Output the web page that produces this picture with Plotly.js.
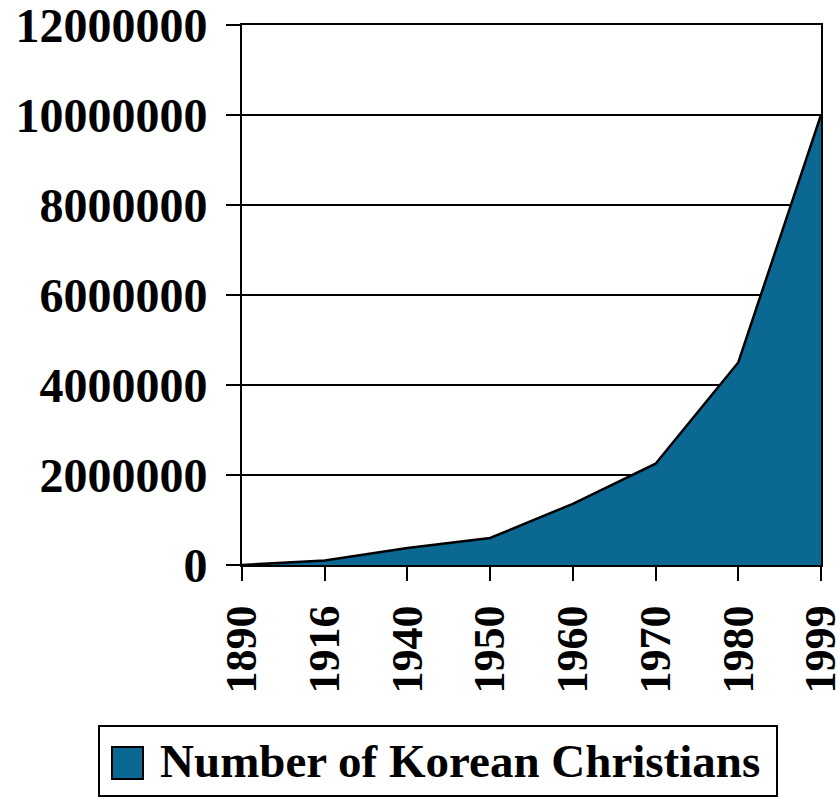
<!DOCTYPE html>
<html>
<head>
<meta charset="utf-8">
<script src="https://cdn.plot.ly/plotly-3.0.1.min.js"></script>
<style>html,body{margin:0;padding:0;background:#fff;}#chart{width:837px;height:797px;}</style>
</head>
<body>
<div id="chart"></div>
<script>
const years = ["1890", "1916", "1940", "1950", "1960", "1970", "1980", "1999"];
const christians = [0, 100000, 380000, 600000, 1360000, 2250000, 4500000, 10000000];
const seriesName = "Number of Korean Christians";
const yTicks = [0, 2000000, 4000000, 6000000, 8000000, 10000000, 12000000];

const font = {family: "Liberation Serif, Times New Roman, serif", color: "#000"};
const fillAvg = "#0a6892";

// plot area in pixels (for converting legend-box placement to paper coords)
const L = 242, R = 821, T = 25, B = 565;
const px = v => (v - L) / (R - L);
const py = v => (B - v) / (B - T);

const area = {
  type: "scatter",
  mode: "lines",
  x: years,
  y: christians,
  name: seriesName,
  fill: "tozeroy",
  fillcolor: fillAvg,
  line: {color: "#000", width: 2.5},
  showlegend: false
};

const layout = {
  width: 837, height: 797,
  margin: {l: L, r: 837 - R, t: T, b: 797 - B},
  paper_bgcolor: "#fff", plot_bgcolor: "#fff",
  font: Object.assign({size: 48, weight: "bold"}, font),
  showlegend: false,
  xaxis: {
    type: "category",
    range: [0, 7],
    tickangle: -90,
    ticks: "outside", ticklen: 14, tickwidth: 2, tickcolor: "#000",
    showline: true, linecolor: "#000", linewidth: 2, mirror: true,
    showgrid: false, zeroline: false,
    tickfont: Object.assign({size: 44, weight: "bold"}, font),
    ticklabelstandoff: 7,
    ticklabeloverflow: "allow"
  },
  yaxis: {
    range: [0, 12000000],
    tickvals: yTicks,
    tickformat: "d",
    ticks: "outside", ticklen: 14, tickwidth: 2, tickcolor: "#000",
    showline: true, linecolor: "#000", linewidth: 2, mirror: true,
    showgrid: true, gridcolor: "#000", gridwidth: 2,
    zeroline: false,
    tickfont: Object.assign({size: 48, weight: "bold"}, font),
    ticklabelstandoff: 9,
    ticklabeloverflow: "allow"
  },
  // legend swatch
  shapes: [{
    type: "rect", xref: "paper", yref: "paper", layer: "above",
    x0: px(112), x1: px(143), y0: py(779), y1: py(747),
    fillcolor: fillAvg, line: {color: "#000", width: 2}
  }],
  // legend box + label
  annotations: [{
    xref: "paper", yref: "paper",
    x: px(437.5), xanchor: "center",
    y: py(761), yanchor: "middle",
    showarrow: false,
    text: seriesName + "\u00A0",
    font: Object.assign({size: 47, weight: "bold"}, font),
    bordercolor: "#000", borderwidth: 2, borderpad: 4,
    bgcolor: "rgba(0,0,0,0)",
    width: 668, height: 60, align: "right"
  }]
};

Plotly.newPlot("chart", [area], layout, {displayModeBar: false, staticPlot: true});
</script>
</body>
</html>
